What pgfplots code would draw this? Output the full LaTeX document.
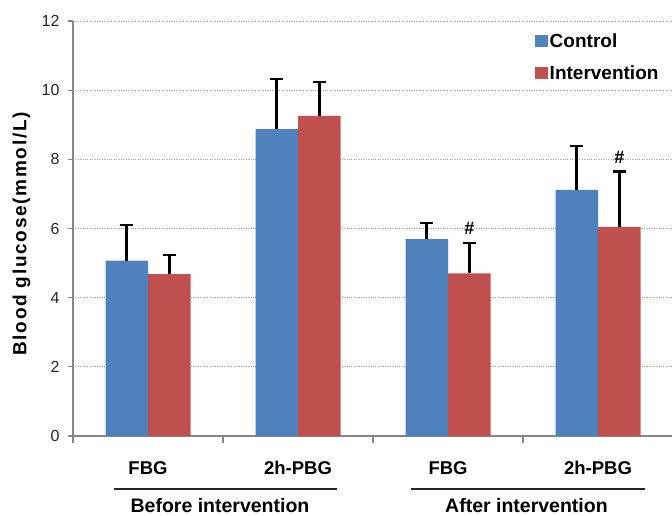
\documentclass[border=0pt]{standalone}
\usepackage{fontspec}
\setmainfont{Liberation Sans}
\usepackage{pgfplots}
\pgfplotsset{compat=1.18}
\definecolor{ctrl}{HTML}{4F81BD}
\definecolor{intv}{HTML}{C0504D}
\definecolor{axgray}{HTML}{878787}
\begin{document}
\begin{tikzpicture}
\begin{axis}[
  at={(0,0)}, anchor=south west,
  scale only axis, width=599pt, height=415pt,
  xmin=0, xmax=3.993, ymin=0, ymax=12,
  clip=false,
  ybar=0pt, bar width=42.5pt,
  axis x line=bottom, axis y line=left,
  axis line style={-, axgray, line width=1.2pt},
  xtick={0.5,1.5,2.5,3.5},
  xticklabels={FBG,2h-PBG,FBG,2h-PBG},
  minor xtick={0,1,2,3},
  major x tick style={draw=none},
  minor x tick style={axgray, line width=1.2pt},
  minor tick length=7pt,
  ytick={0,2,...,12},
  major tick length=5pt,
  tick align=outside,
  y tick style={axgray, line width=1.2pt},
  ymajorgrids,
  grid style={axgray!80, dotted, line width=1pt},
  /pgf/number format/assume math mode=true,
  yticklabel style={font=\fontsize{16}{18}\selectfont, text=black!85, xshift=-5pt},
  xticklabel style={font=\fontsize{18.5}{21}\selectfont\bfseries, text=black, yshift=-17pt},
  ylabel={Blood glucose(mmol/L)},
  ylabel style={at={(axis description cs:-0.086,0.487)}, anchor=center,
    font=\fontsize{19}{22}\selectfont\bfseries\addfontfeature{LetterSpace=9}},
  legend style={draw=none, fill=none, at={(axis cs:3.08,11.7)}, anchor=north west,
    font=\fontsize{19}{22}\selectfont\bfseries, row sep=13pt, inner sep=0pt,
    /tikz/every even column/.style={column sep=2pt}},
  legend image code/.code={\fill[#1] (0pt,-6pt) rectangle (12.5pt,6pt);},
  legend cell align=left,
]
\addplot[fill=ctrl, draw=none,
  error bars/.cd, y dir=plus, y explicit,
  error bar style={black, line width=2.6pt},
  error mark options={rotate=90, black, line width=2.6pt, mark size=6.5pt}]
  coordinates {(0.5,5.07) +- (0,1.03) (1.5,8.87) +- (0,1.45) (2.5,5.69) +- (0,0.47) (3.5,7.12) +- (0,1.27)};
\addlegendentry{Control}
\addplot[fill=intv, draw=none,
  error bars/.cd, y dir=plus, y explicit,
  error bar style={black, line width=2.6pt},
  error mark options={rotate=90, black, line width=2.6pt, mark size=6.5pt}]
  coordinates {(0.5,4.68) +- (0,0.55) (1.5,9.26) +- (0,0.98) (2.5,4.70) +- (0,0.88) (3.5,6.05) +- (0,1.59)};
\addlegendentry{Intervention}
\node[font=\fontsize{18}{21}\selectfont\bfseries] at (axis cs:2.642,5.99) {\#};
\node[font=\fontsize{18}{21}\selectfont\bfseries] at (axis cs:3.642,8.07) {\#};
\draw[black!85, line width=2pt] ([yshift=-53pt]axis cs:0.273,0) -- ([yshift=-53pt]axis cs:1.76,0);
\draw[black!85, line width=2pt] ([yshift=-53pt]axis cs:2.25,0) -- ([yshift=-53pt]axis cs:3.81,0);
\node[font=\fontsize{19.5}{22}\selectfont\bfseries, anchor=base, inner sep=0pt] at ([yshift=-76pt]axis cs:0.98,0) {Before intervention};
\node[font=\fontsize{19.5}{22}\selectfont\bfseries, anchor=base, inner sep=0pt] at ([yshift=-76pt]axis cs:3.023,0) {After intervention};
\end{axis}
\pgfresetboundingbox
\path[use as bounding box] (-73pt,-79pt) rectangle (599pt,436pt);
\end{tikzpicture}
\end{document}
